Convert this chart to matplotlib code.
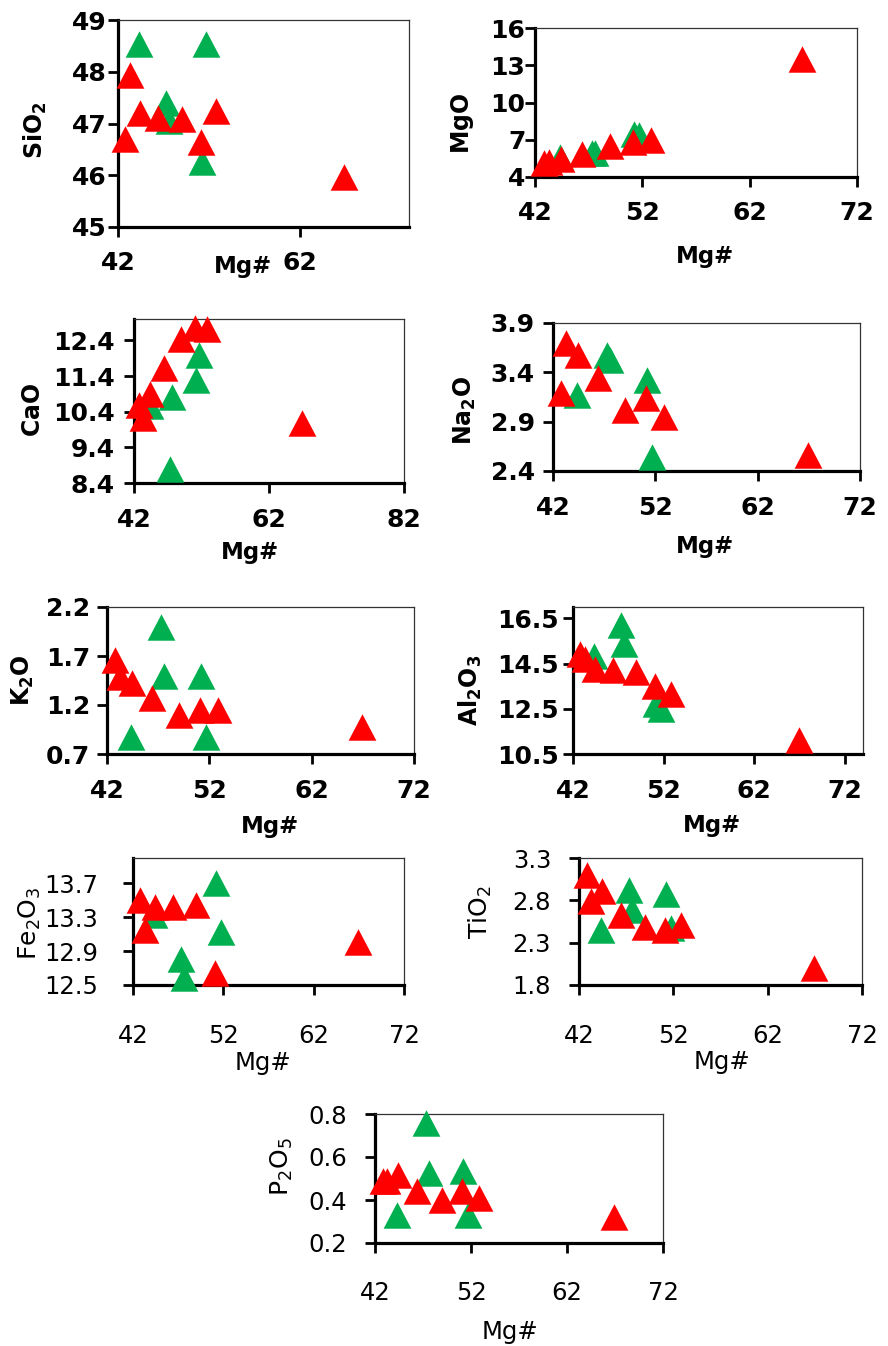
import matplotlib
matplotlib.use("Agg")
import numpy as np
import matplotlib.pyplot as plt

OUTPUT_PLOT = "out.png"
W, H = 888, 1346

# Mg# of each sample, shared by every panel
mg_red = [42.8, 43.3, 44.4, 46.4, 49.0, 51.1, 52.8, 66.9]
mg_green = [44.3, 47.3, 47.6, 51.2, 51.7]

# oxide values (wt%), red samples then green samples
sio2_red = [46.71, 47.94, 47.2, 47.10, 47.09, 46.65, 47.24, 45.97]
sio2_green = [48.53, 47.39, 47.05, 46.26, 48.53]

mgo_red = [5.1, 5.2, 5.45, 5.85, 6.5, 6.85, 7.0, 13.5]
mgo_green = [5.6, 5.95, 5.9, 7.45, 7.4]

cao_red = [10.6, 10.23, 10.89, 11.63, 12.43, 12.75, 12.73, 10.08]
cao_green = [10.55, 8.8, 10.8, 11.3, 12.0]

na2o_red = [3.19, 3.70, 3.58, 3.34, 3.02, 3.14, 2.95, 2.56]
na2o_green = [3.17, 3.58, 3.53, 3.32, 2.54]

k2o_red = [1.66, 1.49, 1.42, 1.27, 1.10, 1.15, 1.15, 0.98]
k2o_green = [0.87, 2.0, 1.5, 1.5, 0.87]

al2o3_red = [14.9, 14.7, 14.25, 14.2, 14.13, 13.5, 13.15, 11.1]
al2o3_green = [14.85, 16.2, 15.35, 12.7, 12.5]

fe2o3_red = [13.50, 13.15, 13.42, 13.42, 13.44, 12.64, np.nan, 13.01]
fe2o3_green = [13.33, 12.81, 12.58, 13.7, 13.13]

tio2_red = [3.10, 2.79, 2.91, 2.63, 2.49, 2.45, 2.51, 2.0]
tio2_green = [2.45, 2.92, 2.69, 2.87, 2.47]

p2o5_red = [0.487, 0.487, 0.518, 0.44, 0.40, 0.44, 0.41, 0.32]
p2o5_green = [0.33, 0.76, 0.526, 0.534, 0.33]

RED = "#FF0000"
GREEN = "#00B050"
TRI = [(0, 1), (-1.05, -1), (1.05, -1), (0, 1)]

# (ylabel, red, green, box px (l, t, r, b), xlim, xticks, ylim, yticks,
#  bold, xpad, ypad, xlabel pos px, ylabel pos px)
panels = [
    (r"$\mathbf{SiO_2}$", sio2_red, sio2_green, (118, 20, 409, 227),
     (42, 74), [42, 62], (45, 49), [45, 46, 47, 48, 49],
     True, 10, 1, (243, 267), (35, 130)),
    (r"$\mathbf{MgO}$", mgo_red, mgo_green, (535, 28, 857, 177),
     (42, 72), [42, 52, 62, 72], (4, 16), [4, 7, 10, 13, 16],
     True, 10, 0, (705, 257), (462, 123)),
    (r"$\mathbf{CaO}$", cao_red, cao_green, (134, 319, 404, 483),
     (42, 82), [42, 62, 82], (8.4, 13.0), [8.4, 9.4, 10.4, 11.4, 12.4],
     True, 11, 7, (250, 552), (33, 410)),
    (r"$\mathbf{Na_2O}$", na2o_red, na2o_green, (553, 323, 860, 471),
     (42, 72), [42, 52, 62, 72], (2.4, 3.9), [2.4, 2.9, 3.4, 3.9],
     True, 11, 6, (705, 547), (465, 410)),
    (r"$\mathbf{K_2O}$", k2o_red, k2o_green, (107, 607, 414, 754),
     (42, 72), [42, 52, 62, 72], (0.7, 2.2), [0.7, 1.2, 1.7, 2.2],
     True, 11, 5, (270, 827), (23, 680)),
    (r"$\mathbf{Al_2O_3}$", al2o3_red, al2o3_green, (573, 607, 863, 754),
     (42, 74), [42, 52, 62, 72], (10.5, 17.0), [10.5, 12.5, 14.5, 16.5],
     True, 11, 3, (712, 825), (470, 690)),
    (r"Fe$_2$O$_3$", fe2o3_red, fe2o3_green, (133, 858, 404, 985),
     (42, 72), [42, 52, 62, 72], (12.5, 14.0), [12.5, 12.9, 13.3, 13.7],
     False, 21, 18, (263, 1063), (30, 923)),
    (r"TiO$_2$", tio2_red, tio2_green, (579, 858, 862, 985),
     (42, 72), [42, 52, 62, 72], (1.8, 3.3), [1.8, 2.3, 2.8, 3.3],
     False, 21, 13, (722, 1062), (480, 912)),
    (r"P$_2$O$_5$", p2o5_red, p2o5_green, (375, 1114, 663, 1243),
     (42, 72), [42, 52, 62, 72], (0.2, 0.8), [0.2, 0.4, 0.6, 0.8],
     False, 20, 13, (510, 1332), (282, 1167)),
]

plt.rcParams["font.family"] = ["DejaVu Sans"]
plt.rcParams["mathtext.fontset"] = "dejavusans"

fig = plt.figure(figsize=(W / 100, H / 100), dpi=100)

for (ylab, red, green, box, xlim, xticks, ylim, yticks,
     bold, xpad, ypad, xlpos, ylpos) in panels:
    l, t, r, b = box
    ax = fig.add_axes([l / W, 1 - b / H, (r - l) / W, (b - t) / H])

    ax.plot(mg_green, green, linestyle="none", marker=TRI, ms=20,
            color=GREEN, mew=0, clip_on=False, zorder=3)
    ax.plot(mg_red, red, linestyle="none", marker=TRI, ms=20,
            color=RED, mew=0, clip_on=False, zorder=4)

    ax.set_xlim(*xlim)
    ax.set_ylim(*ylim)
    weight = "bold" if bold else "normal"
    size = 18 if bold else 17.5
    ax.set_xticks(xticks)
    ax.set_xticklabels([f"{v:g}" for v in xticks], fontsize=size, fontweight=weight)
    ax.set_yticks(yticks)
    ax.set_yticklabels([f"{v:g}" for v in yticks], fontsize=size, fontweight=weight)
    ax.tick_params(axis="x", direction="out", length=7, width=2, pad=xpad)
    ax.tick_params(axis="y", direction="out", length=7, width=2, pad=ypad)

    for side in ("left", "bottom"):
        ax.spines[side].set_linewidth(2.3)
        ax.spines[side].set_color("black")
    for side in ("top", "right"):
        ax.spines[side].set_linewidth(0.9)
        ax.spines[side].set_color("#333333")

    fig.text(xlpos[0] / W, 1 - xlpos[1] / H, "Mg#", ha="center", va="center",
             fontsize=16.5 if bold else 17.5, fontweight=weight)
    fig.text(ylpos[0] / W, 1 - ylpos[1] / H, ylab, ha="center", va="center",
             rotation=90, fontsize=17 if bold else 18, fontweight=weight)

fig.savefig(OUTPUT_PLOT, dpi=100)
print(f"saved {OUTPUT_PLOT}")
